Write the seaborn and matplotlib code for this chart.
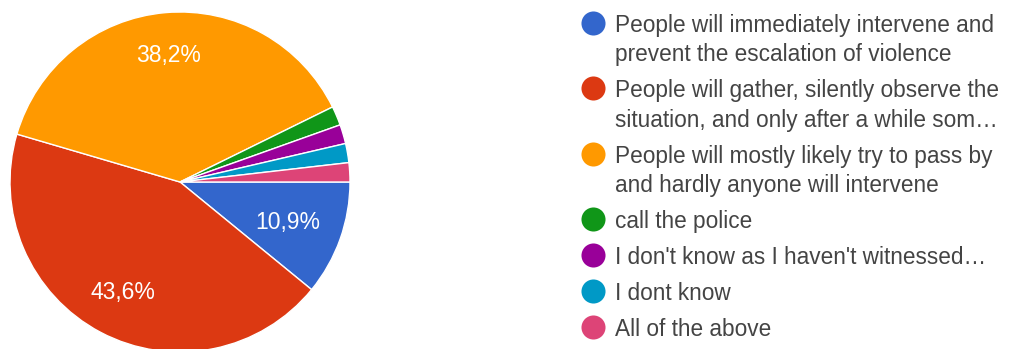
import matplotlib
matplotlib.use("Agg")
import matplotlib.pyplot as plt
import numpy as np
import seaborn as sns

# Survey answers and response counts
answers = [
    "People will immediately intervene and\nprevent the escalation of violence",
    "People will gather, silently observe the\nsituation, and only after a while som\u2026",
    "People will mostly likely try to pass by\nand hardly anyone will intervene",
    "call the police",
    "I don't know as I haven't witnessed\u2026",
    "I dont know",
    "All of the above",
]
counts = [6, 24, 21, 1, 1, 1, 1]
colors = ["#3366cc", "#dc3912", "#ff9900", "#109618", "#990099", "#0099c6", "#dd4477"]

sns.set_theme(style="white")
plt.rcParams["font.family"] = ["Liberation Sans", "DejaVu Sans"]
palette = sns.color_palette(colors)

W, H = 1009, 349
fig = plt.figure(figsize=(W / 100, H / 100), dpi=100)

# Pie axes: centre (180, 182) px, radius 170 px
R = 170
cx, cy = 180, 182
ax = fig.add_axes([(cx - R) / W, (H - cy - R) / H, 2 * R / W, 2 * R / H])
ax.set_aspect("equal")


def fmt(p):
    return f"{p:.1f}%".replace(".", ",") if p >= 5 else ""


wedges, _, autotexts = ax.pie(
    counts,
    colors=palette,
    startangle=0,
    counterclock=False,
    radius=1.0,
    autopct=fmt,
    pctdistance=0.72,
    wedgeprops=dict(edgecolor="white", linewidth=1.0),
    textprops=dict(color="white", fontsize=16.5),
)
ax.set_xlim(-1, 1)
ax.set_ylim(-1, 1)
ax.axis("off")

# Per-slice label distance from the centre
label_dist = [0.67, 0.72, 0.76]
for w, t, d in zip(wedges, autotexts, label_dist):
    ang = np.deg2rad((w.theta1 + w.theta2) / 2)
    t.set_position((d * np.cos(ang), d * np.sin(ang)))
    t.set_ha("center")
    t.set_va("center_baseline")

# Legend drawn in pixel coordinates
lax = fig.add_axes([0, 0, 1, 1])
lax.set_xlim(0, W)
lax.set_ylim(H, 0)
lax.axis("off")
lax.patch.set_alpha(0)

y = 22.7
line_step = 29.5
item_step = 36
for label, col in zip(answers, palette):
    lax.scatter([593], [y], s=300, color=col, marker="o", linewidths=0)
    lines = label.split("\n")
    for i, line in enumerate(lines):
        lax.text(615, y + i * line_step, line, fontsize=16.3, color="#444444",
                 ha="left", va="center_baseline")
    y += (len(lines) - 1) * line_step + item_step

fig.savefig("out.png", dpi=100, facecolor="white")
